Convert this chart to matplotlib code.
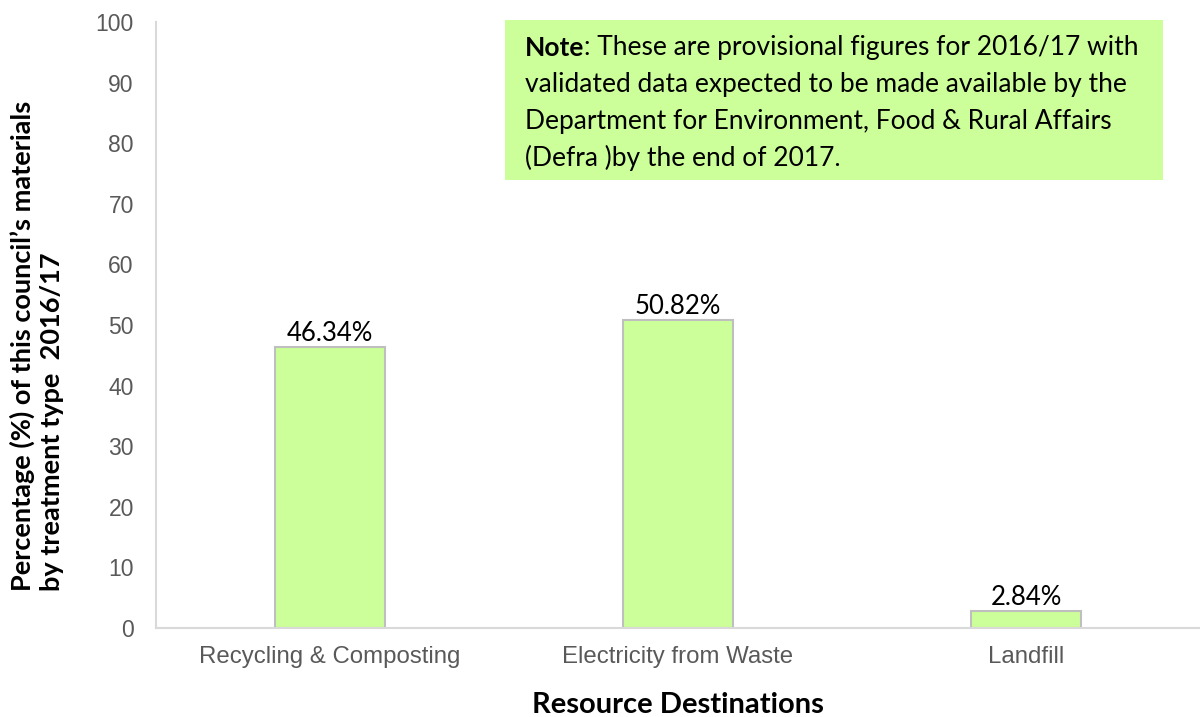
import matplotlib.pyplot as plt

# data
categories = ["Recycling & Composting", "Electricity from Waste", "Landfill"]
values = [46.34, 50.82, 2.84]
value_labels = ["46.34%", "50.82%", "2.84%"]
y_ticks = [0, 10, 20, 30, 40, 50, 60, 70, 80, 90, 100]

bar_color = "#CCFF99"
edge_color = "#BFBFBF"
tick_color = "#595959"
label_font = "Lato"

fig = plt.figure(figsize=(12, 7.17), dpi=100)
ax = fig.add_axes([0.13, 0.1241, 0.87, 0.8452])

x = range(len(categories))
ax.bar(x, values, width=0.316, color=bar_color, edgecolor=edge_color, linewidth=1.5)
for i, (v, lab) in enumerate(zip(values, value_labels)):
    ax.text(i, v + 0.2, lab, ha="center", va="bottom", fontsize=18.5,
            family=label_font, color="black")

ax.set_xlim(-0.5, len(categories) - 0.5)
ax.set_ylim(0, 100)
ax.set_yticks(y_ticks)
ax.set_xticks(list(x))
ax.set_xticklabels(categories)
ax.tick_params(axis="both", length=0, labelsize=16.5, labelcolor=tick_color)
ax.tick_params(axis="x", labelsize=17.3, pad=13)
ax.tick_params(axis="y", pad=16)
for lbl in ax.get_xticklabels() + ax.get_yticklabels():
    lbl.set_family("Liberation Sans")

for side in ["top", "right"]:
    ax.spines[side].set_visible(False)
ax.spines["left"].set_color("#D9D9D9")
ax.spines["bottom"].set_color("#D9D9D9")
ax.spines["left"].set_linewidth(1.5)
ax.spines["bottom"].set_linewidth(1.5)

# axis titles (lines left-aligned, i.e. flush at the bottom once rotated)
fig.text(0.0305, 1 - 591 / 717, "Percentage (%) of this council\u2019s materials\nby treatment type  2016/17",
         rotation=90, ha="center", va="bottom", multialignment="left",
         fontsize=19.5, fontweight="bold", family=label_font, linespacing=1.25)
fig.text(0.565, 0.017, "Resource Destinations", ha="center", va="center",
         fontsize=21, fontweight="bold", family=label_font)

# note box
ax.add_patch(plt.Rectangle((505 / 1200, 1 - 180 / 717), (1163 - 505) / 1200, 160 / 717,
                           transform=fig.transFigure, facecolor=bar_color,
                           edgecolor="none", zorder=3, clip_on=False))
note_lines = [
    ": These are provisional figures for 2016/17 with",
    "validated data expected to be made available by the",
    "Department for Environment, Food & Rural Affairs",
    "(Defra )by the end of 2017.",
]
renderer = fig.canvas.get_renderer()
x0 = 525 / 1200
for k, line in enumerate(note_lines):
    y = 1 - (48 + 36.5 * k) / 717
    if k == 0:
        bold = fig.text(x0, y, "Note", ha="left", va="center", fontsize=19,
                        fontweight="bold", family=label_font, zorder=4)
        bb = bold.get_window_extent(renderer)
        fig.text(bb.x1 / fig.bbox.width, y, line, ha="left", va="center",
                 fontsize=19, family=label_font, zorder=4)
    else:
        fig.text(x0, y, line, ha="left", va="center",
                 fontsize=19, family=label_font, zorder=4)

fig.savefig("out.png", dpi=100)
